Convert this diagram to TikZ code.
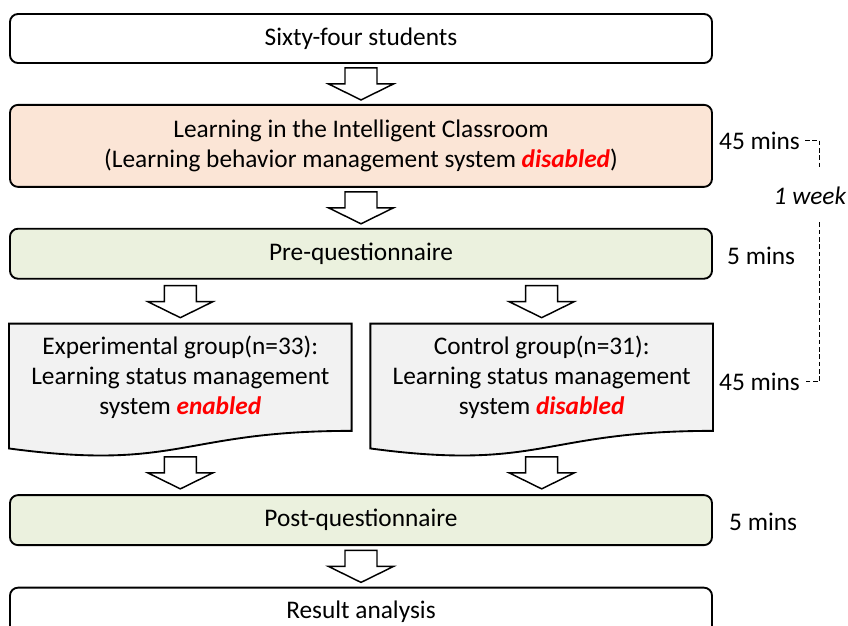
\documentclass[tikz,border=0pt]{standalone}
\usepackage{fontspec}
\setmainfont{Carlito}
\usetikzlibrary{calc,backgrounds}
\usetikzlibrary{positioning}

\definecolor{peach}{HTML}{FBE5D6}
\definecolor{olive}{HTML}{EBF1DE}
\definecolor{paper}{HTML}{F2F2F2}

\newcommand{\hl}[1]{\textcolor{red}{\textbf{\textit{#1}}}}

\begin{document}
\begin{tikzpicture} [
    font=\fontsize{19}{22.5}\selectfont,
    stagebox/.style={rectangle, rounded corners=6pt, draw=black, line width=1.4pt, minimum width=526.5pt, minimum height=36.75pt, align=center},
    classbox/.style={stagebox, fill=peach, minimum height=61.5pt},
    quesbox/.style={stagebox, fill=olive, minimum height=37.5pt},
    groupbox/.style={rectangle, minimum width=256.5pt, minimum height=80pt, align=center},
    docline/.style={draw=black, line width=1.4pt, fill=paper},
    arrowline/.style={draw=black, line width=1.1pt, fill=white},
    mins/.style={inner sep=0pt},
    dashline/.style={line width=1pt, dash pattern=on 3.5pt off 2pt},
    pics/down/.style={code={\draw[arrowline] (-12pt,12pt) -- (-12pt,0pt) -- (-24.4pt,0pt) -- (0pt,-12pt) -- (24.4pt,0pt) -- (12pt,0pt) -- (12pt,12pt) -- cycle;}}
    ]
    \useasboundingbox (-270.75pt,28.875pt) rectangle (365.25pt,-439.875pt);

    %Nodes
    \node[stagebox]  (students) at (0,0) {Sixty-four students};
    \node[classbox]  (class)  [below=30pt of students] {Learning in the Intelligent Classroom\\(Learning behavior management system \hl{disabled})};
    \node[quesbox]   (pre)    [below=30pt of class] {Pre-questionnaire};
    \node[groupbox]  (exp)    [below=33pt of pre.south west, anchor=north west] {Experimental group(n=33):\\Learning status management\\system \hl{enabled}};
    \node[groupbox]  (ctl)    [below=33pt of pre.south east, anchor=north east] {Control group(n=31):\\Learning status management\\system \hl{disabled}};
    \node[quesbox]   (post)   [below=47.5pt of exp.south west, anchor=north west] {Post-questionnaire};
    \node[stagebox]  (result) [below=32pt of post, yshift=1.5pt] {Result analysis};

    \node[mins]      (t45a)   [right=4.5pt of class, yshift=4pt] {45 mins};
    \node[mins]      (t5a)    [right=10.5pt of pre, yshift=-1.9pt] {5 mins};
    \node[mins]      (t45b)   [right=4.5pt of ctl, yshift=-3.4pt] {45 mins};
    \node[mins]      (t5b)    [right=12pt of post, yshift=-1.1pt] {5 mins};
    \node[mins, inner ysep=13.5pt] (week) at ([shift={(7.4pt,-41.1pt)}]t45a.east) {\textit{1 week}};

    %Document shapes behind the group texts
    \begin{scope}[on background layer]
    \foreach \g in {exp,ctl}
        \draw[docline] (\g.north west) -- (\g.north east) -- (\g.south east)
            .. controls (\g.south) and ([yshift=-30.4pt]\g.south) .. ([yshift=-13.2pt]\g.south west) -- cycle;
    \end{scope}

    %Arrows
    \pic at ($(students.south)!.5!(class.north)$) {down};
    \pic at ($(class.south)!.5!(pre.north)$) {down};
    \pic at ($(pre.south -| exp.north)!.5!(exp.north)$) {down};
    \pic at ($(pre.south -| ctl.north)!.5!(ctl.north)$) {down};
    \pic at ($(post.north -| exp.south)+(0,16pt)$) {down};
    \pic at ($(post.north -| ctl.south)+(0,16pt)$) {down};
    \pic at ($(post.south)!.5!(result.north)$) {down};

    %Lines
    \draw[dashline] ([xshift=3.75pt]t45a.east) -| ([xshift=7.25pt]week.north);
    \draw[dashline] ([xshift=7.25pt]week.south) |- ([xshift=3.75pt]t45b.east);
\end{tikzpicture}
\end{document}
